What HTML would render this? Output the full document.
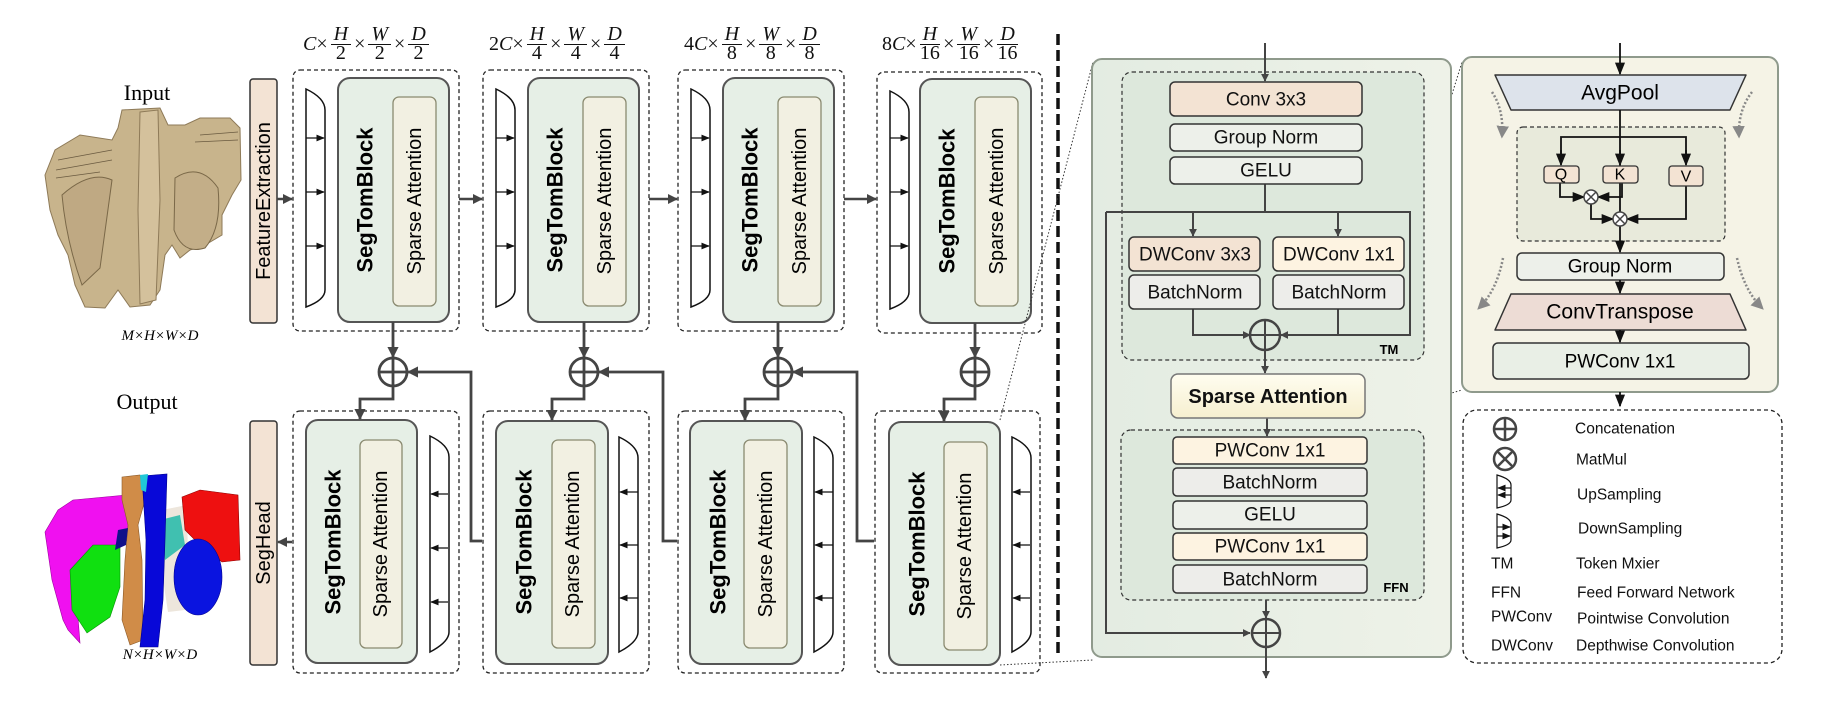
<!DOCTYPE html>
<html><head><meta charset="utf-8">
<style>
html,body{margin:0;padding:0;background:#fff;}
#c{position:relative;width:1822px;height:704px;overflow:hidden;background:#fff;font-family:"Liberation Sans",sans-serif;}
.lab{position:absolute;font-family:"Liberation Serif",serif;font-size:20px;white-space:nowrap;display:flex;align-items:center;color:#111;}
.lab i{font-style:italic;}
.fr{display:inline-flex;flex-direction:column;align-items:center;line-height:17px;margin:0 3px;}
.fr span:first-child{border-bottom:1.5px solid #111;padding:0 3px 1px;}
</style></head><body><div id="c">
<svg width="1822" height="704" viewBox="0 0 1822 704" xmlns="http://www.w3.org/2000/svg" style="position:absolute;left:0;top:0">
<defs>
<marker id="a" viewBox="0 0 10 10" refX="9" refY="5" markerWidth="4" markerHeight="4" orient="auto"><path d="M0,0L10,5L0,10Z" fill="#444"/></marker>
<marker id="as" viewBox="0 0 10 10" refX="9" refY="5" markerWidth="7" markerHeight="7" orient="auto"><path d="M0,1L10,5L0,9Z" fill="#111"/></marker>
<marker id="ag" viewBox="0 0 10 10" refX="8" refY="5" markerWidth="5" markerHeight="5" orient="auto"><path d="M0,0L10,5L0,10Z" fill="#888"/></marker>
<linearGradient id="mp" x1="0" x2="1"><stop offset="0" stop-color="#e3ece2"/><stop offset="1" stop-color="#eef2e8"/></linearGradient>
<linearGradient id="sa" x1="0" y1="0" x2="0" y2="1"><stop offset="0" stop-color="#fffdf0"/><stop offset="1" stop-color="#f6efcf"/></linearGradient>
</defs>

<!-- Input image -->
<g>
<path d="M45,175 L55,150 L80,135 L112,140 L118,128 L122,110 L160,108 L168,125 L185,125 L200,118 L230,118 L240,128 L241,180 L232,195 L222,215 L222,235 L205,245 L190,250 L180,258 L172,245 L165,255 L160,290 L150,305 L130,307 L118,290 L105,308 L85,307 L75,285 L68,255 L58,235 L50,210 Z" fill="#c8b48c" stroke="#8e7a58" stroke-width="1"/>
<path d="M140,112 L158,110 L160,200 L156,300 L140,304 L138,210 Z" fill="#d4c19c" stroke="#8e7a58" stroke-width="1"/>
<path d="M62,195 Q90,170 112,180 Q105,230 100,268 L82,285 Q66,240 62,195Z" fill="#bfa983" stroke="#7a6848" stroke-width="1"/>
<path d="M175,178 Q200,162 218,188 Q222,228 205,248 Q183,255 174,230 Z" fill="#c3ae88" stroke="#7a6848" stroke-width="1"/>
<path d="M58,160 L112,150 M56,170 L112,160 M56,178 L100,172 M200,135 L238,132 M195,142 L238,140" stroke="#6a5a40" stroke-width="0.8"/>
</g>
<!-- Output image -->
<g>
<path d="M45,532 L58,510 L73,500 L127,495 L132,537 L90,557 L75,580 L80,643 L68,630 L63,620 L52,580 Z" fill="#f010f0" stroke="#a000a0" stroke-width="0.6"/>
<path d="M70,570 L93,545 L120,545 L120,587 L110,617 L87,633 L72,610 Z" fill="#10e010" stroke="#089008" stroke-width="0.6"/>
<path d="M162,510 L187,505 L188,560 L185,610 L168,612 L160,560Z" fill="#ede6dc"/>
<path d="M160,520 L180,515 L185,545 L165,560Z" fill="#40c0b0"/>
<path d="M122,477 L140,475 L145,500 L138,525 L142,560 L143,640 L130,645 L122,620 L125,560 L128,525 L122,500 Z" fill="#d08c48" stroke="#8c5a28" stroke-width="0.6"/>
<path d="M142,476 L167,474 L165,540 L163,600 L158,647 L140,647 L145,600 L146,540 Z" fill="#0808d8" stroke="#000090" stroke-width="0.6"/>
<path d="M140,475 L148,474 L146,492 L141,490Z" fill="#20c8d8"/>
<path d="M182,497 L200,490 L238,495 L240,560 L222,562 L200,545 L185,530 Z" fill="#ee1010" stroke="#900000" stroke-width="0.6"/>
<ellipse cx="198" cy="577" rx="24" ry="38" fill="#0a14e0" stroke="#000090" stroke-width="0.6"/>
<path d="M118,530 L128,528 L126,545 L115,550Z" fill="#10108a"/>
</g>

<text x="147" y="100" font-family="Liberation Serif,serif" font-size="22" text-anchor="middle">Input</text>
<text x="160" y="340" font-family="Liberation Serif,serif" font-style="italic" font-size="15" text-anchor="middle">M×H×W×D</text>
<text x="147" y="409" font-family="Liberation Serif,serif" font-size="22" text-anchor="middle">Output</text>
<text x="160" y="659" font-family="Liberation Serif,serif" font-style="italic" font-size="15" text-anchor="middle">N×H×W×D</text>

<rect x="250" y="79" width="27" height="244" rx="3" fill="#f3e3d4" stroke="#333" stroke-width="1.5"/>
<text transform="translate(264,201) rotate(-90)" font-size="20" text-anchor="middle" dominant-baseline="central">FeatureExtraction</text>
<rect x="250" y="421" width="27" height="244" rx="3" fill="#f3e3d4" stroke="#333" stroke-width="1.5"/>
<text transform="translate(264,543) rotate(-90)" font-size="20" text-anchor="middle" dominant-baseline="central">SegHead</text>
<line x1="277" y1="199" x2="292" y2="199" stroke="#444" stroke-width="2.5" marker-end="url(#a)"/>
<line x1="292" y1="542" x2="278" y2="542" stroke="#444" stroke-width="2.5" marker-end="url(#a)"/>

<g fill="none">
<g transform="translate(293,0)">
 <rect x="0" y="70" width="166" height="261" rx="7" stroke="#222" stroke-width="1.3" stroke-dasharray="4,3"/>
 <path d="M13,89 Q32,98 32,110 L32,290 Q32,300 13,307 Z" fill="#fff" stroke="#111" stroke-width="1.5"/>
 <g stroke="#111" stroke-width="1.2"><line x1="13" y1="138" x2="31" y2="138" marker-end="url(#as)"/><line x1="13" y1="192" x2="31" y2="192" marker-end="url(#as)"/><line x1="13" y1="246" x2="31" y2="246" marker-end="url(#as)"/></g>
 <rect x="45" y="78" width="111" height="244" rx="12" fill="#e6efe6" stroke="#555" stroke-width="2"/>
 <rect x="100" y="97" width="43" height="209" rx="6" fill="#f2f0e2" stroke="#8a8a70" stroke-width="1.3"/>
</g>
<g transform="translate(483,0)">
 <rect x="0" y="70" width="166" height="261" rx="7" stroke="#222" stroke-width="1.3" stroke-dasharray="4,3"/>
 <path d="M13,89 Q32,98 32,110 L32,290 Q32,300 13,307 Z" fill="#fff" stroke="#111" stroke-width="1.5"/>
 <g stroke="#111" stroke-width="1.2"><line x1="13" y1="138" x2="31" y2="138" marker-end="url(#as)"/><line x1="13" y1="192" x2="31" y2="192" marker-end="url(#as)"/><line x1="13" y1="246" x2="31" y2="246" marker-end="url(#as)"/></g>
 <rect x="45" y="78" width="111" height="244" rx="12" fill="#e6efe6" stroke="#555" stroke-width="2"/>
 <rect x="100" y="97" width="43" height="209" rx="6" fill="#f2f0e2" stroke="#8a8a70" stroke-width="1.3"/>
</g>
<g transform="translate(678,0)">
 <rect x="0" y="70" width="166" height="261" rx="7" stroke="#222" stroke-width="1.3" stroke-dasharray="4,3"/>
 <path d="M13,89 Q32,98 32,110 L32,290 Q32,300 13,307 Z" fill="#fff" stroke="#111" stroke-width="1.5"/>
 <g stroke="#111" stroke-width="1.2"><line x1="13" y1="138" x2="31" y2="138" marker-end="url(#as)"/><line x1="13" y1="192" x2="31" y2="192" marker-end="url(#as)"/><line x1="13" y1="246" x2="31" y2="246" marker-end="url(#as)"/></g>
 <rect x="45" y="78" width="111" height="244" rx="12" fill="#e6efe6" stroke="#555" stroke-width="2"/>
 <rect x="100" y="97" width="43" height="209" rx="6" fill="#f2f0e2" stroke="#8a8a70" stroke-width="1.3"/>
</g>
<g transform="translate(877,0)">
 <rect x="0" y="72" width="165" height="261" rx="7" stroke="#222" stroke-width="1.3" stroke-dasharray="4,3"/>
 <path d="M13,91 Q32,100 32,112 L32,292 Q32,302 13,309 Z" fill="#fff" stroke="#111" stroke-width="1.5"/>
 <g stroke="#111" stroke-width="1.2"><line x1="13" y1="138" x2="31" y2="138" marker-end="url(#as)"/><line x1="13" y1="192" x2="31" y2="192" marker-end="url(#as)"/><line x1="13" y1="246" x2="31" y2="246" marker-end="url(#as)"/></g>
 <rect x="43" y="79" width="111" height="244" rx="12" fill="#e6efe6" stroke="#555" stroke-width="2"/>
 <rect x="98" y="97" width="43" height="209" rx="6" fill="#f2f0e2" stroke="#8a8a70" stroke-width="1.3"/>
</g>
</g>
<g font-size="22" font-weight="bold" text-anchor="middle" dominant-baseline="central">
<text transform="translate(365,200) rotate(-90)">SegTomBlock</text>
<text transform="translate(555,200) rotate(-90)">SegTomBlock</text>
<text transform="translate(750,200) rotate(-90)">SegTomBlock</text>
<text transform="translate(947,201) rotate(-90)">SegTomBlock</text>
</g>
<g font-size="20" text-anchor="middle" dominant-baseline="central">
<text transform="translate(415,201) rotate(-90)">Sparse Attention</text>
<text transform="translate(605,201) rotate(-90)">Sparse Attention</text>
<text transform="translate(800,201) rotate(-90)">Sparse Attention</text>
<text transform="translate(997,201) rotate(-90)">Sparse Attention</text>
</g>
<g stroke="#444" stroke-width="2.5">
<line x1="459" y1="199" x2="482" y2="199" marker-end="url(#a)"/>
<line x1="649" y1="199" x2="677" y2="199" marker-end="url(#a)"/>
<line x1="844" y1="199" x2="876" y2="199" marker-end="url(#a)"/>
</g>

<g fill="none">
<g transform="translate(293,0)">
 <rect x="0" y="411" width="166" height="262" rx="7" stroke="#222" stroke-width="1.3" stroke-dasharray="4,3"/>
 <rect x="13" y="420" width="111" height="243" rx="12" fill="#e6efe6" stroke="#555" stroke-width="2"/>
 <rect x="67" y="440" width="42" height="208" rx="6" fill="#f2f0e2" stroke="#8a8a70" stroke-width="1.3"/>
 <path d="M137,436 Q156,445 156,457 L156,632 Q156,642 137,652 Z" fill="#fff" stroke="#111" stroke-width="1.5"/>
 <g stroke="#111" stroke-width="1.2"><line x1="155" y1="494" x2="138" y2="494" marker-end="url(#as)"/><line x1="155" y1="548" x2="138" y2="548" marker-end="url(#as)"/><line x1="155" y1="602" x2="138" y2="602" marker-end="url(#as)"/></g>
</g>
<g transform="translate(483,0)">
 <rect x="0" y="411" width="166" height="262" rx="7" stroke="#222" stroke-width="1.3" stroke-dasharray="4,3"/>
 <rect x="13" y="421" width="112" height="243" rx="12" fill="#e6efe6" stroke="#555" stroke-width="2"/>
 <rect x="69" y="440" width="43" height="208" rx="6" fill="#f2f0e2" stroke="#8a8a70" stroke-width="1.3"/>
 <path d="M136,437 Q155,446 155,458 L155,632 Q155,642 136,652 Z" fill="#fff" stroke="#111" stroke-width="1.5"/>
 <g stroke="#111" stroke-width="1.2"><line x1="155" y1="492" x2="137" y2="492" marker-end="url(#as)"/><line x1="155" y1="545" x2="137" y2="545" marker-end="url(#as)"/><line x1="155" y1="598" x2="137" y2="598" marker-end="url(#as)"/></g>
</g>
<g transform="translate(678,0)">
 <rect x="0" y="411" width="166" height="262" rx="7" stroke="#222" stroke-width="1.3" stroke-dasharray="4,3"/>
 <rect x="12" y="421" width="112" height="243" rx="12" fill="#e6efe6" stroke="#555" stroke-width="2"/>
 <rect x="66" y="440" width="43" height="208" rx="6" fill="#f2f0e2" stroke="#8a8a70" stroke-width="1.3"/>
 <path d="M136,437 Q155,446 155,458 L155,632 Q155,642 136,652 Z" fill="#fff" stroke="#111" stroke-width="1.5"/>
 <g stroke="#111" stroke-width="1.2"><line x1="155" y1="492" x2="137" y2="492" marker-end="url(#as)"/><line x1="155" y1="545" x2="137" y2="545" marker-end="url(#as)"/><line x1="155" y1="598" x2="137" y2="598" marker-end="url(#as)"/></g>
</g>
<g transform="translate(875,0)">
 <rect x="0" y="411" width="165" height="262" rx="7" stroke="#222" stroke-width="1.3" stroke-dasharray="4,3"/>
 <rect x="14" y="422" width="111" height="243" rx="12" fill="#e6efe6" stroke="#555" stroke-width="2"/>
 <rect x="69" y="442" width="43" height="208" rx="6" fill="#f2f0e2" stroke="#8a8a70" stroke-width="1.3"/>
 <path d="M137,437 Q156,446 156,458 L156,632 Q156,642 137,652 Z" fill="#fff" stroke="#111" stroke-width="1.5"/>
 <g stroke="#111" stroke-width="1.2"><line x1="155" y1="492" x2="138" y2="492" marker-end="url(#as)"/><line x1="155" y1="545" x2="138" y2="545" marker-end="url(#as)"/><line x1="155" y1="598" x2="138" y2="598" marker-end="url(#as)"/></g>
</g>
</g>
<g font-size="22" font-weight="bold" text-anchor="middle" dominant-baseline="central">
<text transform="translate(333,542) rotate(-90)">SegTomBlock</text>
<text transform="translate(524,542) rotate(-90)">SegTomBlock</text>
<text transform="translate(718,542) rotate(-90)">SegTomBlock</text>
<text transform="translate(917,544) rotate(-90)">SegTomBlock</text>
</g>
<g font-size="20" text-anchor="middle" dominant-baseline="central">
<text transform="translate(381,544) rotate(-90)">Sparse Attention</text>
<text transform="translate(573,544) rotate(-90)">Sparse Attention</text>
<text transform="translate(766,544) rotate(-90)">Sparse Attention</text>
<text transform="translate(965,546) rotate(-90)">Sparse Attention</text>
</g>

<g stroke="#444" stroke-width="2.8" fill="none">
 <circle cx="393" cy="372" r="14"/><line x1="379" y1="372" x2="407" y2="372"/><line x1="393" y1="358" x2="393" y2="386"/>
 <circle cx="584" cy="372" r="14"/><line x1="570" y1="372" x2="598" y2="372"/><line x1="584" y1="358" x2="584" y2="386"/>
 <circle cx="778" cy="372" r="14"/><line x1="764" y1="372" x2="792" y2="372"/><line x1="778" y1="358" x2="778" y2="386"/>
 <circle cx="975" cy="372" r="14"/><line x1="961" y1="372" x2="989" y2="372"/><line x1="975" y1="358" x2="975" y2="386"/>
 <line x1="393" y1="322" x2="393" y2="357" marker-end="url(#a)"/>
 <line x1="584" y1="322" x2="584" y2="357" marker-end="url(#a)"/>
 <line x1="778" y1="322" x2="778" y2="357" marker-end="url(#a)"/>
 <line x1="975" y1="323" x2="975" y2="357" marker-end="url(#a)"/>
 <path d="M393,386 V399 H360 V419" marker-end="url(#a)"/>
 <path d="M584,386 V399 H552 V420" marker-end="url(#a)"/>
 <path d="M778,386 V399 H745 V420" marker-end="url(#a)"/>
 <path d="M975,386 V399 H944 V421" marker-end="url(#a)"/>
 <path d="M482,541 H471 V372 H408" marker-end="url(#a)"/>
 <path d="M677,541 H663 V372 H599" marker-end="url(#a)"/>
 <path d="M874,541 H857 V372 H793" marker-end="url(#a)"/>
</g>

<line x1="1058" y1="34" x2="1058" y2="654" stroke="#111" stroke-width="3.5" stroke-dasharray="11,5"/>
<g stroke="#333" stroke-width="1" stroke-dasharray="1.5,2" fill="none">
 <line x1="1000" y1="420" x2="1093" y2="62"/>
 <line x1="1000" y1="665" x2="1093" y2="660"/>
 <line x1="1365" y1="375" x2="1462" y2="62"/>
 <line x1="1365" y1="418" x2="1462" y2="390"/>
</g>

<rect x="1092" y="59" width="359" height="598" rx="10" fill="url(#mp)" stroke="#8f9a8c" stroke-width="2"/>
<rect x="1122" y="72" width="302" height="288" rx="10" fill="#dde8dc" stroke="#333" stroke-width="1.2" stroke-dasharray="4,3"/>
<rect x="1121" y="430" width="303" height="170" rx="10" fill="#dde8dc" stroke="#333" stroke-width="1.2" stroke-dasharray="4,3"/>
<g stroke="#444" stroke-width="2" fill="none">
 <line x1="1265" y1="43" x2="1265" y2="81" marker-end="url(#a)"/>
 <line x1="1265" y1="184" x2="1265" y2="212"/>
 <path d="M1106,212 H1410 V335 H1281" marker-end="url(#a)"/>
 <path d="M1106,212 V633 H1250" marker-end="url(#a)"/>
 <line x1="1193" y1="212" x2="1193" y2="236" marker-end="url(#a)"/>
 <line x1="1338" y1="212" x2="1338" y2="236" marker-end="url(#a)"/>
 <path d="M1193,309 V335 H1250" marker-end="url(#a)"/>
 <line x1="1338" y1="309" x2="1338" y2="335"/>
 <circle cx="1265" cy="335" r="15" stroke-width="2.5"/><line x1="1250" y1="335" x2="1280" y2="335"/><line x1="1265" y1="320" x2="1265" y2="350"/>
 <line x1="1265" y1="350" x2="1265" y2="373" marker-end="url(#a)"/>
 <line x1="1267" y1="418" x2="1267" y2="436" marker-end="url(#a)"/>
 <line x1="1266" y1="600" x2="1266" y2="618" marker-end="url(#a)"/>
 <circle cx="1266" cy="633" r="14" stroke-width="2.5"/><line x1="1252" y1="633" x2="1280" y2="633"/><line x1="1266" y1="619" x2="1266" y2="647"/>
 <line x1="1266" y1="647" x2="1266" y2="678" marker-end="url(#a)"/>
</g>
<g stroke="#333" stroke-width="1.5">
 <rect x="1170" y="82" width="192" height="34" rx="5" fill="#f3e3d3"/>
 <rect x="1170" y="124" width="192" height="27" rx="5" fill="#edf0ea"/>
 <rect x="1170" y="157" width="192" height="27" rx="5" fill="#edf0ea"/>
 <rect x="1129" y="237" width="131" height="34" rx="5" fill="#f3e3d3"/>
 <rect x="1273" y="237" width="131" height="34" rx="5" fill="#fdf3e1"/>
 <rect x="1129" y="275" width="131" height="34" rx="5" fill="#ededea"/>
 <rect x="1273" y="275" width="131" height="34" rx="5" fill="#ededea"/>
 <rect x="1171" y="374" width="194" height="44" rx="7" fill="url(#sa)" stroke="#777"/>
 <rect x="1173" y="437" width="194" height="27" rx="4" fill="#fdf3e1"/>
 <rect x="1173" y="468" width="194" height="28" rx="4" fill="#ededea"/>
 <rect x="1173" y="501" width="194" height="28" rx="4" fill="#edf0ea"/>
 <rect x="1173" y="533" width="194" height="27" rx="4" fill="#fdf3e1"/>
 <rect x="1173" y="565" width="194" height="28" rx="4" fill="#ededea"/>
</g>
<g font-size="19" text-anchor="middle" dominant-baseline="central" fill="#111">
 <text x="1266" y="100">Conv 3x3</text>
 <text x="1266" y="138">Group Norm</text>
 <text x="1266" y="171">GELU</text>
 <text x="1195" y="255">DWConv 3x3</text>
 <text x="1339" y="255">DWConv 1x1</text>
 <text x="1195" y="293">BatchNorm</text>
 <text x="1339" y="293">BatchNorm</text>
 <text x="1268" y="397" font-weight="bold" font-size="20">Sparse Attention</text>
 <text x="1270" y="451">PWConv 1x1</text>
 <text x="1270" y="483">BatchNorm</text>
 <text x="1270" y="515">GELU</text>
 <text x="1270" y="547">PWConv 1x1</text>
 <text x="1270" y="580">BatchNorm</text>
</g>
<text x="1389" y="354" font-size="13" font-weight="bold" text-anchor="middle">TM</text>
<text x="1396" y="592" font-size="13" font-weight="bold" text-anchor="middle">FFN</text>

<rect x="1462" y="57" width="316" height="335" rx="10" fill="#f5f3e6" stroke="#8f9a8c" stroke-width="2"/>
<rect x="1517" y="127" width="208" height="114" rx="6" fill="#e8eadb" stroke="#333" stroke-width="1.2" stroke-dasharray="4,3"/>
<path d="M1495,75 L1746,75 L1730,110 L1511,110 Z" fill="#dde3eb" stroke="#333" stroke-width="1.5" stroke-linejoin="round"/>
<path d="M1511,294 L1730,294 L1746,330 L1495,330 Z" fill="#eddcd5" stroke="#333" stroke-width="1.5" stroke-linejoin="round"/>
<rect x="1517" y="253" width="207" height="27" rx="5" fill="#edf0ea" stroke="#333" stroke-width="1.5"/>
<rect x="1493" y="343" width="256" height="36" rx="5" fill="#e9efe6" stroke="#333" stroke-width="1.5"/>
<g stroke="#111" stroke-width="1.8" fill="none">
 <line x1="1620" y1="43" x2="1620" y2="74" marker-end="url(#as)"/>
 <line x1="1620" y1="110" x2="1620" y2="212"/>
 <path d="M1561,164 V137 H1686 V164"/>
 <line x1="1561" y1="150" x2="1561" y2="165" marker-end="url(#as)"/>
 <line x1="1620" y1="150" x2="1620" y2="165" marker-end="url(#as)"/>
 <line x1="1686" y1="150" x2="1686" y2="165" marker-end="url(#as)"/>
 <path d="M1560,183 V197 H1584" marker-end="url(#as)"/>
 <path d="M1622,183 V197 H1598" marker-end="url(#as)"/>
 <path d="M1591,204 V219 H1613" marker-end="url(#as)"/>
 <path d="M1686,186 V219 H1627" marker-end="url(#as)"/>
 <line x1="1620" y1="226" x2="1620" y2="252" marker-end="url(#as)"/>
 <line x1="1620" y1="280" x2="1620" y2="293" marker-end="url(#as)"/>
 <line x1="1620" y1="330" x2="1620" y2="342" marker-end="url(#as)"/>
 <line x1="1620" y1="392" x2="1620" y2="406" marker-end="url(#as)"/>
</g>
<g stroke="#444" stroke-width="1.5" fill="#fff">
 <circle cx="1591" cy="197" r="7"/><circle cx="1620" cy="219" r="7"/>
 <path d="M1586,192 L1596,202 M1596,192 L1586,202 M1615,214 L1625,224 M1625,214 L1615,224"/>
</g>
<g stroke="#333" stroke-width="1.3">
 <rect x="1544" y="166" width="35" height="17" rx="3" fill="#f3e3d3"/>
 <rect x="1603" y="166" width="35" height="17" rx="3" fill="#f3e3d3"/>
 <rect x="1669" y="166" width="34" height="20" rx="3" fill="#f3e3d3"/>
</g>
<g font-size="16" text-anchor="middle" dominant-baseline="central">
 <text x="1561" y="175">Q</text><text x="1620" y="175">K</text><text x="1686" y="177">V</text>
</g>
<g font-size="21" text-anchor="middle" dominant-baseline="central">
 <text x="1620" y="93">AvgPool</text>
 <text x="1620" y="267" font-size="19">Group Norm</text>
 <text x="1620" y="312">ConvTranspose</text>
 <text x="1620" y="362" font-size="19">PWConv 1x1</text>
</g>
<g stroke="#888" stroke-width="2.5" stroke-dasharray="2,2" fill="none">
 <path d="M1492,92 Q1504,110 1502,136" marker-end="url(#ag)"/>
 <path d="M1752,92 Q1738,110 1739,136" marker-end="url(#ag)"/>
 <path d="M1503,258 Q1497,290 1479,308" marker-end="url(#ag)"/>
 <path d="M1737,258 Q1744,290 1762,308" marker-end="url(#ag)"/>
</g>

<rect x="1463" y="410" width="319" height="253" rx="14" fill="#fff" stroke="#222" stroke-width="1.3" stroke-dasharray="4,3"/>
<g stroke="#444" stroke-width="2.5" fill="none">
 <circle cx="1505" cy="429" r="11"/><line x1="1494" y1="429" x2="1516" y2="429"/><line x1="1505" y1="418" x2="1505" y2="440"/>
 <circle cx="1505" cy="459" r="11"/><line x1="1498" y1="452" x2="1512" y2="466"/><line x1="1512" y1="452" x2="1498" y2="466"/>
</g>
<g stroke="#111" stroke-width="1.2" fill="none">
 <path d="M1497,475 Q1511,479 1511,485 L1511,500 Q1511,505 1497,508 Z"/>
 <line x1="1511" y1="488" x2="1498" y2="488" marker-end="url(#as)"/><line x1="1511" y1="495" x2="1498" y2="495" marker-end="url(#as)"/>
 <path d="M1497,514 Q1511,518 1511,524 L1511,540 Q1511,545 1497,548 Z"/>
 <line x1="1497" y1="527" x2="1510" y2="527" marker-end="url(#as)"/><line x1="1497" y1="536" x2="1510" y2="536" marker-end="url(#as)"/>
</g>
<g font-size="15.5" dominant-baseline="central" fill="#111">
 <text x="1575" y="429">Concatenation</text>
 <text x="1576" y="460">MatMul</text>
 <text x="1577" y="495">UpSampling</text>
 <text x="1578" y="529">DownSampling</text>
 <text x="1491" y="564">TM</text><text x="1576" y="564">Token Mxier</text>
 <text x="1491" y="593">FFN</text><text x="1577" y="593">Feed Forward Network</text>
 <text x="1491" y="617">PWConv</text><text x="1577" y="619">Pointwise Convolution</text>
 <text x="1491" y="646">DWConv</text><text x="1576" y="646">Depthwise Convolution</text>
</g>
</svg>

<div class="lab" style="left:303px;top:26px"><i>C</i>×<span class="fr"><span><i>H</i></span><span>2</span></span>×<span class="fr"><span><i>W</i></span><span>2</span></span>×<span class="fr"><span><i>D</i></span><span>2</span></span></div>
<div class="lab" style="left:489px;top:26px">2<i>C</i>×<span class="fr"><span><i>H</i></span><span>4</span></span>×<span class="fr"><span><i>W</i></span><span>4</span></span>×<span class="fr"><span><i>D</i></span><span>4</span></span></div>
<div class="lab" style="left:684px;top:26px">4<i>C</i>×<span class="fr"><span><i>H</i></span><span>8</span></span>×<span class="fr"><span><i>W</i></span><span>8</span></span>×<span class="fr"><span><i>D</i></span><span>8</span></span></div>
<div class="lab" style="left:882px;top:26px">8<i>C</i>×<span class="fr"><span><i>H</i></span><span>16</span></span>×<span class="fr"><span><i>W</i></span><span>16</span></span>×<span class="fr"><span><i>D</i></span><span>16</span></span></div>
</div></body></html>
